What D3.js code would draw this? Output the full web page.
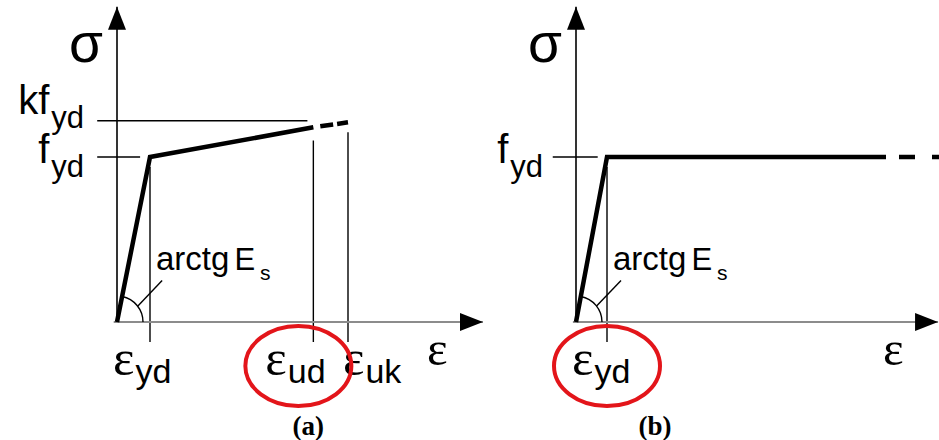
<!DOCTYPE html>
<html lang="it">
<head>
<meta charset="UTF-8">
<title>Legame costitutivo acciaio</title>
<style>
    html, body { margin: 0; padding: 0; background: #fff; }
    svg { display: block; }
    .curve { fill: none; stroke: #000; stroke-width: 4.5px; stroke-linejoin: miter; }
    .thin { fill: none; stroke: #000; stroke-width: 1.4px; }
    .xaxis { stroke: #8c8c8c; stroke-width: 2px; }
    .yaxis { stroke: #000; stroke-width: 1.6px; }
    .sans { font-family: "Liberation Sans", Arial, sans-serif; }
    .serif { font-family: "Liberation Serif", "Times New Roman", serif; }
    .mark { fill: none; stroke: #e3151a; stroke-width: 4px; }
</style>
</head>
<body>
<svg width="939" height="440"></svg>

<script src="https://d3js.org/d3.v7.min.js"></script>
<script>
    // (a) bilinear with hardening: origin -> eps_yd -> eps_ud, dashed up to eps_uk
    const strainA = [0, 1, 5.95];
    const stressA = [0, 1, 1.18];
    const strainA_dash = [5.95, 7.0];
    const stressA_dash = [1.18, 1.21];
    const kA = 1.22;                       // k * f_yd level
    const xMarksA = [1, 5.95, 7.0];        // eps_yd, eps_ud, eps_uk
    const xLabelsA = ["yd", "ud", "uk"];

    // (b) elastic - perfectly plastic
    const strainB = [0, 1, 10];
    const stressB = [0, 1, 1];
    const strainB_dash = [10, 11.75];
    const stressB_dash = [1, 1];
    const xMarksB = [1];
    const xLabelsB = ["yd"];

    const svg = d3.select("svg");

    // arrow head
    svg.append("defs").append("marker")
        .attr("id", "arr")
        .attr("viewBox", "0 0 23 18")
        .attr("refX", 23).attr("refY", 9)
        .attr("markerWidth", 23).attr("markerHeight", 18)
        .attr("markerUnits", "userSpaceOnUse")
        .attr("orient", "auto")
        .append("path").attr("d", "M0,0 L23,9 L0,18 Z").attr("fill", "#000");

    // text with subscript
    function sub(g, x, y, main, s, o) {
        const t = g.append("text")
            .attr("x", x).attr("y", y)
            .attr("text-anchor", o.anchor || "start");
        t.append("tspan").attr("class", o.mainClass || "sans")
            .attr("font-size", o.size).text(main);
        t.append("tspan").attr("class", "sans")
            .attr("font-size", o.subSize).attr("dx", o.subDx || 0)
            .attr("dy", o.subDy).text(s);
        return t;
    }

    function panel(cfg) {
        const g = svg.append("g");
        const x = d3.scaleLinear().domain([0, 1]).range([cfg.x0, cfg.x0 + cfg.unitX]);
        const y = d3.scaleLinear().domain([0, 1]).range([322, 157]);
        const line = d3.line().x(d => x(d[0])).y(d => y(d[1]));

        // guide lines
        g.append("line").attr("class", "thin")
            .attr("x1", x(cfg.tickFrom)).attr("x2", x(cfg.tickTo))
            .attr("y1", y(1)).attr("y2", y(1));
        if (cfg.k) {
            g.append("line").attr("class", "thin")
                .attr("x1", x(cfg.tickFrom)).attr("x2", x(cfg.marks[1] - 0.18))
                .attr("y1", y(cfg.k)).attr("y2", y(cfg.k));
        }
        const tops = cfg.markTops;
        cfg.marks.forEach((m, i) => {
            g.append("line").attr("class", "thin")
                .attr("x1", x(m)).attr("x2", x(m))
                .attr("y1", y(tops[i])).attr("y2", y(0) + 20);
        });

        // axes
        g.append("line").attr("class", "xaxis")
            .attr("x1", x(-0.1)).attr("x2", x(cfg.xMax))
            .attr("y1", y(0)).attr("y2", y(0))
            .attr("marker-end", "url(#arr)");
        g.append("line").attr("class", "yaxis")
            .attr("x1", x(0)).attr("x2", x(0))
            .attr("y1", y(0)).attr("y2", y(1.91))
            .attr("marker-end", "url(#arr)");

        // angle arc + leader
        const ang = Math.atan2(y(0) - y(1), x(1) - x(0));
        const r = 26;
        const arc = d3.arc().innerRadius(r).outerRadius(r)
            .startAngle(Math.PI / 2 - ang).endAngle(Math.PI / 2);
        g.append("path").attr("class", "thin")
            .attr("transform", `translate(${x(0)},${y(0)})`)
            .attr("d", arc());
        const mid = ang / 2;
        g.append("line").attr("class", "thin")
            .attr("x1", x(0) + r * Math.cos(mid * 0.95)).attr("y1", y(0) - r * Math.sin(mid * 0.95))
            .attr("x2", x(0) + r * Math.cos(mid) + 25).attr("y2", y(0) - r * Math.sin(mid) - 25);

        // curve
        g.append("path").attr("class", "curve")
            .attr("d", line(cfg.strain.map((s, i) => [s, cfg.stress[i]])));
        g.append("path").attr("class", "curve")
            .attr("stroke-dasharray", cfg.dash)
            .attr("d", line(cfg.strainDash.map((s, i) => [s, cfg.stressDash[i]])));

        // labels
        g.append("text").attr("class", "sans")
            .attr("x", x(0) - 48).attr("y", 62)
            .attr("font-size", 55).text("σ");
        if (cfg.k) {
            sub(g, x(0) - 33, y(cfg.k) - 7, "kf", "yd",
                { anchor: "end", size: 40, subSize: 31, subDy: 14, subDx: 2 });
        }
        sub(g, x(0) - 33, y(1) + 6, "f", "yd",
            { anchor: "end", size: 40, subSize: 31, subDy: 14, subDx: 2 });

        const at = g.append("text").attr("class", "sans")
            .attr("x", x(1) + 6).attr("y", 270);
        at.append("tspan").attr("font-size", 33).text("arctg");
        at.append("tspan").attr("font-size", 31).attr("dx", 5).text("E");
        at.append("tspan").attr("font-size", 21).attr("dx", 5).attr("dy", 10).text("s");

        cfg.marks.forEach((m, i) => {
            sub(g, x(m) + cfg.labelDx[i], 375, "ε", cfg.labels[i],
                { mainClass: "serif", size: 51, subSize: 34, subDy: 8, subDx: 1 });
        });
        g.append("text").attr("class", "serif")
            .attr("x", x(cfg.xMax) - cfg.epsDx).attr("y", 365)
            .attr("font-size", 49).text("ε");

        // highlight ring
        const ri = cfg.ring;
        g.append("ellipse").attr("class", "mark")
            .attr("cx", x(cfg.marks[ri]) - cfg.ringDx).attr("cy", 366)
            .attr("rx", 53).attr("ry", 40);

        g.append("text").attr("class", "serif")
            .attr("x", x(cfg.marks[ri]) - cfg.ringDx + cfg.capDx).attr("y", 435)
            .attr("text-anchor", "middle").attr("font-weight", "bold")
            .attr("font-size", 27).text(cfg.caption);
    }

    panel({
        x0: 117, unitX: 33, xMax: 11.09, k: kA,
        strain: strainA, stress: stressA,
        strainDash: strainA_dash, stressDash: stressA_dash,
        dash: "0 7 13 4 11 100",
        marks: xMarksA, labels: xLabelsA, markTops: [0.94, 1.10, 1.15],
        labelDx: [-37, -48, -5],
        tickFrom: -0.6, tickTo: 0.7,
        epsDx: 56, ring: 1, ringDx: 15, capDx: 10, caption: "(a)"
    });

    panel({
        x0: 576, unitX: 31, xMax: 11.68, k: null,
        strain: strainB, stress: stressB,
        strainDash: strainB_dash, stressDash: stressB_dash,
        dash: "0 13 16 17 16 100",
        marks: xMarksB, labels: xLabelsB, markTops: [0.94],
        labelDx: [-35],
        tickFrom: -0.75, tickTo: 0.7,
        epsDx: 55, ring: 0, ringDx: 0, capDx: 48, caption: "(b)"
    });
</script>
</body>
</html>
